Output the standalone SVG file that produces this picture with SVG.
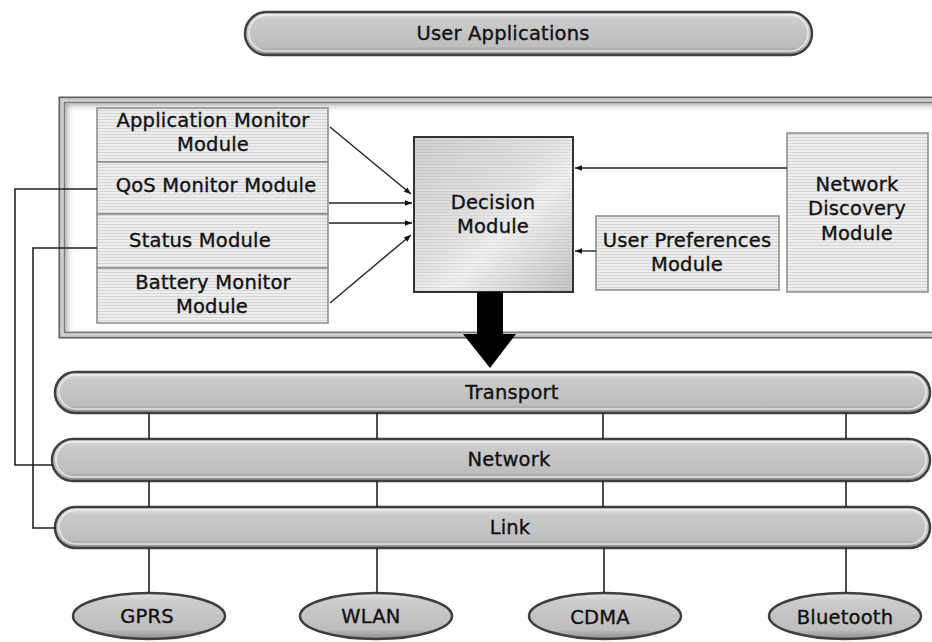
<svg xmlns="http://www.w3.org/2000/svg" width="932" height="642" viewBox="0 0 932 642">
  <style>
    .lbl { font-family: "DejaVu Sans", "Open Sans", sans-serif; font-size: 19.5px; fill: #111; stroke: #111; stroke-width: 0.35px; text-anchor: middle; letter-spacing: 0.2px; }
    .pill { fill: url(#pillGrad); stroke: #3f3f3f; stroke-width: 2.5; }
    .pillHi { fill: none; stroke: #f2f2f2; stroke-width: 1.5; opacity: 0.8; }
    .mod { fill: url(#stripes); stroke: #8a8a8a; stroke-width: 1.5; }
    .wire { fill: none; stroke: #222; stroke-width: 1.6; }
    .feed { fill: none; stroke: #222; stroke-width: 1.4; marker-end: url(#tip); }
  </style>
  <defs>
    <linearGradient id="pillGrad" x1="0" y1="0" x2="0" y2="1">
      <stop offset="0" stop-color="#e4e4e4"/>
      <stop offset="0.18" stop-color="#cbcbcb"/>
      <stop offset="0.8" stop-color="#bdbdbd"/>
      <stop offset="1" stop-color="#8c8c8c"/>
    </linearGradient>
    <pattern id="stripes" width="4" height="3" patternUnits="userSpaceOnUse">
      <rect width="4" height="3" fill="#ededed"/>
      <rect y="2" width="4" height="1" fill="#d6d6d6"/>
    </pattern>
    <linearGradient id="metal" x1="0" y1="0" x2="1" y2="1">
      <stop offset="0" stop-color="#cfcfcf"/>
      <stop offset="0.45" stop-color="#e2e2e2"/>
      <stop offset="0.6" stop-color="#f0f0f0"/>
      <stop offset="1" stop-color="#c4c4c4"/>
    </linearGradient>
    <pattern id="metalStripes" width="4" height="3" patternUnits="userSpaceOnUse">
      <rect y="2" width="4" height="1" fill="#000" opacity="0.06"/>
    </pattern>
    <linearGradient id="shadeTop" x1="0" y1="0" x2="0" y2="1">
      <stop offset="0" stop-color="#9a9a9a" stop-opacity="0.6"/>
      <stop offset="1" stop-color="#ffffff" stop-opacity="0"/>
    </linearGradient>
    <linearGradient id="shadeLeft" x1="0" y1="0" x2="1" y2="0">
      <stop offset="0" stop-color="#9a9a9a" stop-opacity="0.6"/>
      <stop offset="1" stop-color="#ffffff" stop-opacity="0"/>
    </linearGradient>
    <marker id="tip" viewBox="0 0 10 10" refX="10" refY="5" markerWidth="9" markerHeight="7" markerUnits="userSpaceOnUse" orient="auto">
      <path d="M0,1 L10,5 L0,9 Z" fill="#111"/>
    </marker>
  </defs>

  <rect width="932" height="642" fill="#ffffff"/>

  <!-- top application layer -->
  <g id="user-applications">
    <rect class="pill" x="245" y="12" width="567" height="43" rx="21.5"/>
    <rect class="pillHi" x="249" y="15" width="559" height="36" rx="18"/>
    <text class="lbl" x="503" y="40">User Applications</text>
  </g>

  <!-- middleware frame -->
  <g id="middleware-frame">
    <rect x="59.5" y="97.5" width="900" height="240" fill="#ffffff" stroke="#5e5e5e" stroke-width="2"/>
    <rect x="61.5" y="99.5" width="896" height="236" fill="none" stroke="#c8c8c8" stroke-width="2.5"/>
    <rect x="64.5" y="102.5" width="890" height="230" fill="none" stroke="#7a7a7a" stroke-width="2"/>
    <rect x="66" y="104" width="880" height="9" fill="url(#shadeTop)"/>
    <rect x="66" y="104" width="9" height="228" fill="url(#shadeLeft)"/>
  </g>

  <!-- monitor modules -->
  <g id="application-monitor">
    <rect class="mod" x="97" y="108" width="231" height="54"/>
    <text class="lbl" x="213" y="127">Application Monitor</text>
    <text class="lbl" x="213" y="151">Module</text>
  </g>
  <g id="qos-monitor">
    <rect class="mod" x="97" y="162" width="231" height="52"/>
    <text class="lbl" x="216" y="192">QoS Monitor Module</text>
  </g>
  <g id="status-module">
    <rect class="mod" x="97" y="214" width="231" height="54"/>
    <text class="lbl" x="200" y="247">Status Module</text>
  </g>
  <g id="battery-monitor">
    <rect class="mod" x="97" y="268" width="231" height="55"/>
    <text class="lbl" x="213" y="289">Battery Monitor</text>
    <text class="lbl" x="212" y="313">Module</text>
  </g>

  <!-- decision -->
  <g id="decision-module">
    <rect x="414" y="137" width="159" height="155" fill="url(#metal)" stroke="#333" stroke-width="2"/>
    <rect x="415" y="138" width="157" height="153" fill="url(#metalStripes)"/>
    <text class="lbl" x="493" y="209">Decision</text>
    <text class="lbl" x="493" y="233">Module</text>
  </g>

  <g id="user-preferences">
    <rect class="mod" x="596" y="216" width="183" height="74"/>
    <text class="lbl" x="687" y="247">User Preferences</text>
    <text class="lbl" x="687" y="271">Module</text>
  </g>

  <g id="network-discovery">
    <rect class="mod" x="787" y="133" width="141" height="159"/>
    <text class="lbl" x="857" y="191">Network</text>
    <text class="lbl" x="857" y="215">Discovery</text>
    <text class="lbl" x="857" y="240">Module</text>
  </g>

  <!-- protocol stack layers -->
  <g id="transport">
    <rect class="pill" x="55" y="372" width="875" height="41" rx="20.5"/>
    <rect class="pillHi" x="59" y="375" width="867" height="34" rx="17"/>
    <text class="lbl" x="512" y="399">Transport</text>
  </g>
  <g id="network">
    <rect class="pill" x="52" y="439" width="878" height="42" rx="21"/>
    <rect class="pillHi" x="56" y="442" width="870" height="35" rx="17.5"/>
    <text class="lbl" x="509" y="466">Network</text>
  </g>
  <g id="link">
    <rect class="pill" x="55" y="507" width="875" height="41" rx="20.5"/>
    <rect class="pillHi" x="59" y="510" width="867" height="34" rx="17"/>
    <text class="lbl" x="510" y="534">Link</text>
  </g>

  <!-- access technologies -->
  <g id="gprs">
    <ellipse class="pill" cx="149" cy="616" rx="76" ry="23"/>
    <text class="lbl" x="147" y="623">GPRS</text>
  </g>
  <g id="wlan">
    <ellipse class="pill" cx="376" cy="616" rx="76" ry="23"/>
    <text class="lbl" x="371" y="623">WLAN</text>
  </g>
  <g id="cdma">
    <ellipse class="pill" cx="605" cy="616" rx="76" ry="23"/>
    <text class="lbl" x="600" y="624">CDMA</text>
  </g>
  <g id="bluetooth">
    <ellipse class="pill" cx="845" cy="616" rx="76" ry="23"/>
    <text class="lbl" x="845" y="624">Bluetooth</text>
  </g>

  <!-- connectors -->
  <g id="connectors">
    <line class="feed" x1="330" y1="127" x2="411" y2="194"/>
    <line class="feed" x1="329" y1="203" x2="412" y2="203"/>
    <line class="feed" x1="329" y1="223" x2="412" y2="223"/>
    <line class="feed" x1="330" y1="303" x2="411" y2="235"/>
    <line class="feed" x1="787" y1="168" x2="575" y2="168"/>
    <line class="feed" x1="596" y1="251" x2="575" y2="251"/>

    <polygon points="477,292 503,292 503,334 516,334 490,368 463,334 477,334" fill="#000"/>

    <path class="wire" d="M97,189 H15 V465 H53"/>
    <path class="wire" d="M97,248 H33 V528 H56"/>

    <path class="wire" d="M149,413 V439 M377,413 V439 M603,413 V439 M846,413 V439"/>
    <path class="wire" d="M149,481 V507 M377,481 V507 M603,481 V507 M846,481 V507"/>
    <path class="wire" d="M149,548 V593 M377,548 V593 M604,548 V593 M846,548 V593"/>
  </g>
</svg>
